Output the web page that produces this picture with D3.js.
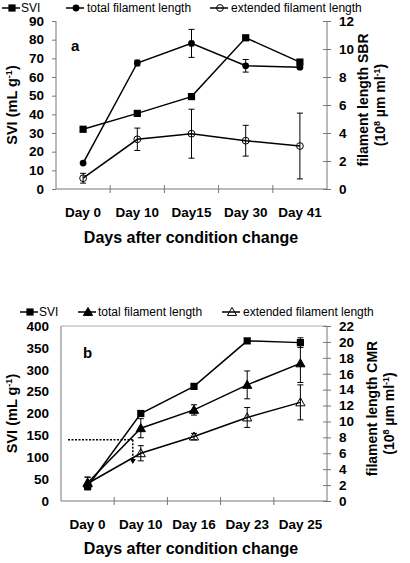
<!DOCTYPE html>
<html>
<head>
<meta charset="utf-8">
<script src="https://cdn.jsdelivr.net/npm/d3@7"></script>
<style>
html,body{margin:0;padding:0;background:#fff;}
svg{display:block;font-family:"Liberation Sans",Arial,sans-serif;}
</style>
</head>
<body>
<svg id="chart" width="410" height="563"></svg>
<script>
// ---------- Panel a (SBR) ----------
const daysA = ["Day 0", "Day 10", "Day15", "Day 30", "Day 41"];
const sviA = [32, 40.5, 49.5, 81, 68];
const sviAErr = [0, 0, 0, 0, 0];
const totalA = [1.85, 9.0, 10.4, 8.8, 8.7];
const totalAErr = [0, 0.2, 1.0, 0.45, 0.1];
const extA = [0.77, 3.55, 3.95, 3.45, 3.07];
const extAErr = [0.35, 0.8, 1.75, 1.1, 2.35];
const leftTicksA = [0, 10, 20, 30, 40, 50, 60, 70, 80, 90];
const rightTicksA = [0, 2, 4, 6, 8, 10, 12];

// ---------- Panel b (CMR) ----------
const daysB = ["Day 0", "Day 10", "Day 16", "Day 23", "Day 25"];
const sviB = [33, 200, 262, 366, 362];
const sviBErr = [0, 0, 0, 0, 11];
const totalB = [2.3, 9.15, 11.45, 14.6, 17.3];
const totalBErr = [0.7, 1.2, 0.65, 1.75, 2.4];
const extB = [2.2, 6.0, 8.1, 10.5, 12.4];
const extBErr = [0.8, 0.95, 0.4, 1.25, 2.2];
const leftTicksB = [0, 50, 100, 150, 200, 250, 300, 350, 400];
const rightTicksB = [0, 2, 4, 6, 8, 10, 12, 14, 16, 18, 20, 22];
// dotted annotation (SVI units): horizontal level and arrow end
const annotSVI = [140, 87];

const svg = d3.select("#chart");
const FRAME = "#777";

function marker(g, type, x, y) {
  if (type === "square") {
    g.append("rect").attr("x", x - 3.6).attr("y", y - 3.6).attr("width", 7.2).attr("height", 7.2).attr("fill", "#000");
  } else if (type === "dot") {
    g.append("circle").attr("cx", x).attr("cy", y).attr("r", 3.4).attr("fill", "#000");
  } else if (type === "ring") {
    g.append("circle").attr("cx", x).attr("cy", y).attr("r", 3.4).attr("fill", "none").attr("stroke", "#000").attr("stroke-width", 1);
  } else if (type === "tri" || type === "otri") {
    const s = 4.6;
    g.append("path")
      .attr("d", `M${x},${y - s}L${x + s},${y + s * 0.75}L${x - s},${y + s * 0.75}Z`)
      .attr("fill", type === "tri" ? "#000" : "none")
      .attr("stroke", "#000").attr("stroke-width", 1);
  }
}

function panel(cfg) {
  const g = svg.append("g");
  const x = d3.scaleBand().domain(cfg.days).range([cfg.x0, cfg.x1]);
  const yL = d3.scaleLinear().domain([0, cfg.leftMax]).range([cfg.yb, cfg.yt]);
  const yR = d3.scaleLinear().domain([0, cfg.rightMax]).range([cfg.yb, cfg.yt]);
  const cx = d => x(d) + x.bandwidth() / 2;

  if (cfg.box) {
    g.append("line").attr("x1", cfg.x0).attr("x2", cfg.x1).attr("y1", cfg.yt).attr("y2", cfg.yt).attr("stroke", "#aaa").attr("stroke-width", 1);
  }
  const la = g.append("g").attr("transform", `translate(${cfg.x0},0)`)
    .call(d3.axisLeft(yL).tickValues(cfg.leftTicks).tickSize(cfg.leftTickSize).tickPadding(cfg.leftPad));
  la.select(".domain").attr("stroke", FRAME).attr("d", `M0,${cfg.yt}V${cfg.yb}`);
  la.selectAll(".tick line").attr("stroke", FRAME);
  la.selectAll("text").attr("font-size", cfg.tickFont).attr("font-weight", "bold").attr("fill", "#000")
    .attr("font-family", "Liberation Sans, Arial, sans-serif");

  const ra = g.append("g").attr("transform", `translate(${cfg.x1},0)`)
    .call(d3.axisRight(yR).tickValues(cfg.rightTicks).tickSize(4).tickPadding(cfg.rightPad));
  ra.select(".domain").attr("stroke", FRAME).attr("d", `M0,${cfg.yt}V${cfg.yb}`);
  ra.selectAll(".tick line").attr("stroke", FRAME).attr("x1", -4);
  ra.selectAll("text").attr("font-size", cfg.tickFont).attr("font-weight", "bold").attr("fill", "#000")
    .attr("font-family", "Liberation Sans, Arial, sans-serif");

  const ba = g.append("g").attr("transform", `translate(0,${cfg.yb})`)
    .call(d3.axisBottom(x).tickSize(0).tickPadding(cfg.xPad));
  ba.select(".domain").attr("stroke", FRAME).attr("d", `M${cfg.x0},0H${cfg.x1}`);
  ba.selectAll(".tick line").remove();
  ba.selectAll("text").attr("font-size", cfg.tickFont).attr("font-weight", "bold").attr("fill", "#000")
    .attr("font-family", "Liberation Sans, Arial, sans-serif");
  const bounds = cfg.days.slice(1).map(d => x(d));
  g.selectAll(null).data(bounds).enter().append("line")
    .attr("x1", d => d).attr("x2", d => d).attr("y1", cfg.yb - 4).attr("y2", cfg.yb + 4)
    .attr("stroke", FRAME);

  cfg.series.forEach(s => {
    const ys = s.axis === "L" ? yL : yR;
    const line = d3.line().x((v, i) => cx(cfg.days[i])).y(v => ys(v));
    g.append("path").attr("d", line(s.values)).attr("fill", "none").attr("stroke", "#000").attr("stroke-width", 1.5);
    s.values.forEach((v, i) => {
      const e = s.err[i];
      if (e > 0) {
        const xx = cx(cfg.days[i]);
        const y1 = ys(v + e), y2 = ys(v - e);
        g.append("line").attr("x1", xx).attr("x2", xx).attr("y1", y1).attr("y2", y2).attr("stroke", "#000").attr("stroke-width", 1);
        [y1, y2].forEach(yy => g.append("line").attr("x1", xx - 3).attr("x2", xx + 3).attr("y1", yy).attr("y2", yy).attr("stroke", "#000").attr("stroke-width", 1));
      }
    });
  });
  cfg.series.forEach(s => {
    const ys = s.axis === "L" ? yL : yR;
    s.values.forEach((v, i) => marker(g, s.marker, cx(cfg.days[i]), ys(v)));
  });

  cfg.legend.forEach(l => {
    g.append("line").attr("x1", l.cx - 10).attr("x2", l.cx + 8).attr("y1", cfg.legY).attr("y2", cfg.legY).attr("stroke", "#000").attr("stroke-width", 1.5);
    marker(g, l.marker, l.cx, cfg.legY);
    g.append("text").attr("x", l.tx).attr("y", cfg.legY + 4.2).attr("font-size", 12).text(l.label);
  });

  g.append("text").attr("x", cfg.letterX).attr("y", cfg.letterY).attr("font-size", 15).attr("font-weight", "bold").text(cfg.letter);

  const ymid = (cfg.yt + cfg.yb) / 2;
  const lt = g.append("text").attr("transform", `translate(${cfg.ltX},${ymid}) rotate(-90)`)
    .attr("text-anchor", "middle").attr("font-size", 14.5).attr("font-weight", "bold");
  lt.append("tspan").text("SVI (mL g");
  lt.append("tspan").attr("dy", -5).attr("font-size", 9).text("-1");
  lt.append("tspan").attr("dy", 5).text(")");

  g.append("text").attr("transform", `translate(${cfg.rtX},${ymid - 5}) rotate(-90)`)
    .attr("text-anchor", "middle").attr("font-size", 14).attr("font-weight", "bold").text(cfg.rightTitle);
  const r2 = g.append("text").attr("transform", `translate(${cfg.rtX + 17},${ymid}) rotate(-90)`)
    .attr("text-anchor", "middle").attr("font-size", 14).attr("font-weight", "bold");
  r2.append("tspan").text("(10");
  r2.append("tspan").attr("dy", -5).attr("font-size", 9).text("8");
  r2.append("tspan").attr("dy", 5).text(" µm ml");
  r2.append("tspan").attr("dy", -5).attr("font-size", 9).text("-1");
  r2.append("tspan").attr("dy", 5).text(")");

  g.append("text").attr("x", 191).attr("y", cfg.titleY).attr("text-anchor", "middle")
    .attr("font-size", 16).attr("font-weight", "bold").text("Days after condition change");

  return { g, x, yL, yR, cx };
}

panel({
  days: daysA, x0: 56, x1: 327, yt: 21, yb: 189, leftMax: 90, rightMax: 12,
  leftTicks: leftTicksA, rightTicks: rightTicksA, leftTickSize: 4, leftPad: 8, rightPad: 8, xPad: 18,
  tickFont: 13.5, box: false,
  series: [
    { values: sviA, err: sviAErr, axis: "L", marker: "square" },
    { values: totalA, err: totalAErr, axis: "R", marker: "dot" },
    { values: extA, err: extAErr, axis: "R", marker: "ring" }
  ],
  legY: 8,
  legend: [
    { cx: 12, tx: 21, marker: "square", label: "SVI" },
    { cx: 76, tx: 87, marker: "dot", label: "total filament length" },
    { cx: 220, tx: 231, marker: "ring", label: "extended filament length" }
  ],
  letter: "a", letterX: 71, letterY: 51,
  ltX: 17, rtX: 368, rightTitle: "filament length SBR", titleY: 243
});

const pb = panel({
  days: daysB, x0: 61, x1: 327, yt: 326, yb: 501, leftMax: 400, rightMax: 22,
  leftTicks: leftTicksB, rightTicks: rightTicksB, leftTickSize: 0, leftPad: 12, rightPad: 8, xPad: 18,
  tickFont: 13.5, box: true,
  series: [
    { values: sviB, err: sviBErr, axis: "L", marker: "square" },
    { values: totalB, err: totalBErr, axis: "R", marker: "tri" },
    { values: extB, err: extBErr, axis: "R", marker: "otri" }
  ],
  legY: 312,
  legend: [
    { cx: 30, tx: 39, marker: "square", label: "SVI" },
    { cx: 88, tx: 98, marker: "tri", label: "total filament length" },
    { cx: 232, tx: 243, marker: "otri", label: "extended filament length" }
  ],
  letter: "b", letterX: 83, letterY: 358,
  ltX: 17, rtX: 377, rightTitle: "filament length CMR", titleY: 554
});

{
  const { g, yL, cx } = pb;
  const xs = 68, xe = cx(daysB[1]) - 8;
  const yh = yL(annotSVI[0]), ya = yL(annotSVI[1]);
  g.append("line").attr("x1", xs).attr("x2", xe).attr("y1", yh).attr("y2", yh)
    .attr("stroke", "#000").attr("stroke-width", 1.5).attr("stroke-dasharray", "2,1.5");
  g.append("line").attr("x1", xe).attr("x2", xe).attr("y1", yh).attr("y2", ya - 3)
    .attr("stroke", "#000").attr("stroke-width", 1.5).attr("stroke-dasharray", "2,1.5");
  g.append("path").attr("d", `M${xe - 3},${ya - 4}L${xe + 3},${ya - 4}L${xe},${ya + 1}Z`).attr("fill", "#000");
}
</script>
</body>
</html>
